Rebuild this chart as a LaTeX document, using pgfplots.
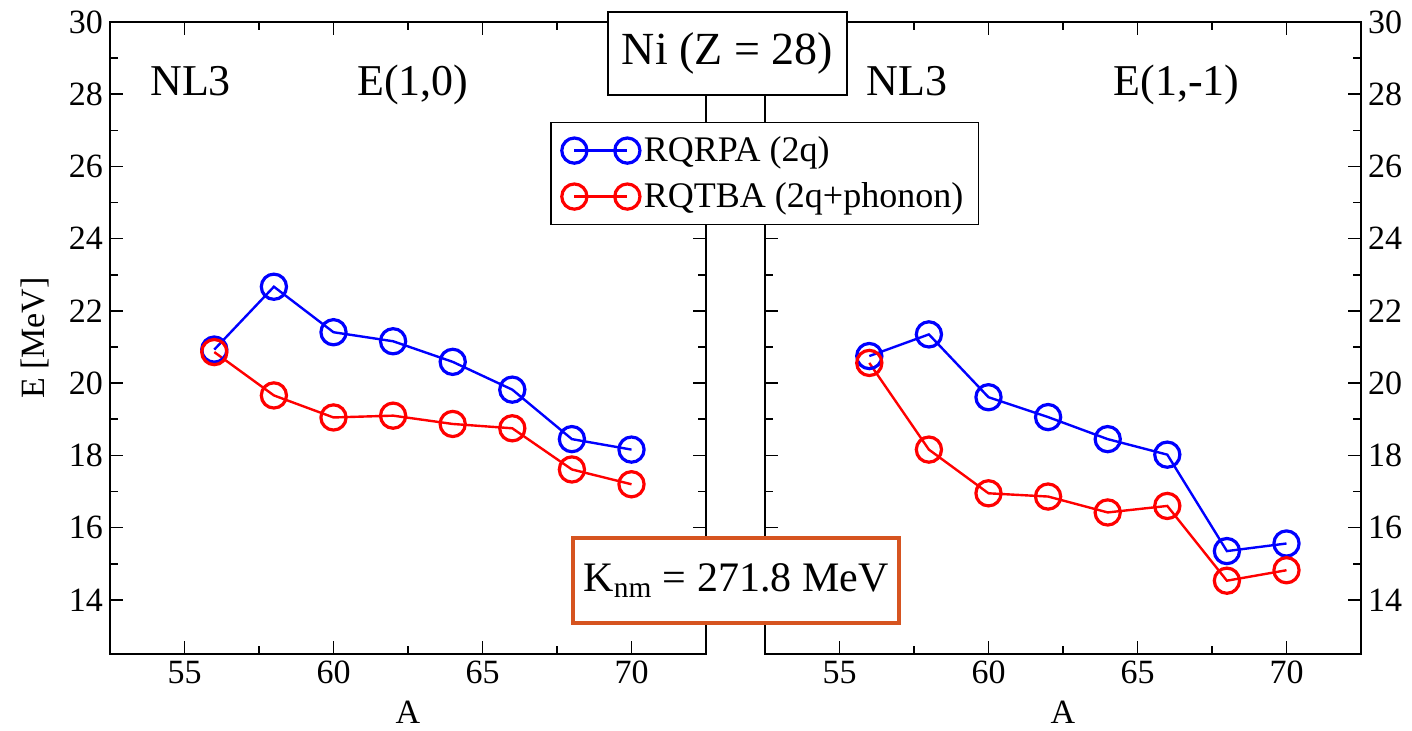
\documentclass[border=0pt]{standalone}
\usepackage{fontspec}
\setmainfont{Liberation Serif}
\usepackage{pgfplots}
\pgfplotsset{compat=1.18}
\usetikzlibrary{shadows}

\definecolor{knmorange}{RGB}{214,84,32}

\tikzset{lbl/.style={font=\rmfamily\fontsize{22}{22}\selectfont, inner sep=0pt, anchor=base west}}

\pgfplotsset{
  nipanel/.style={
    scale only axis, width=298pt, height=316pt,
    xmin=52.5, xmax=72.5, ymin=12.5, ymax=30,
    xtick={55,60,65,70}, ytick={14,16,...,30},
    minor x tick num=1, minor y tick num=1,
    tick align=inside,
    major tick length=6.5pt, minor tick length=4pt,
    axis line style={line width=1pt},
    tick style={black, line width=0.8pt},
    tick label style={font=\rmfamily\fontsize{17}{17}\selectfont},
    label style={font=\rmfamily\fontsize{17}{17}\selectfont},
    /pgf/number format/assume math mode=true,
    xlabel={A},
    xlabel style={at={(axis description cs:0.5,-0.092)}, anchor=center},
    clip=false,
    legend image code/.code={\draw[##1] plot coordinates {(0pt,0pt) (26.5pt,0pt)};},
  },
  rq/.style={blue, line width=1.2pt, mark=o, mark size=6.3pt, mark options={line width=1.6pt}},
  rt/.style={red, line width=1.2pt, mark=o, mark size=6.3pt, mark options={line width=1.6pt}},
}

\begin{document}
\begin{tikzpicture}
\useasboundingbox (0,0) rectangle (706pt,365pt);

% left panel: E(1,0)
\begin{axis}[nipanel, at={(55pt,38pt)}, anchor=south west,
  yticklabel pos=left,
  ylabel={E [MeV]},
  ylabel style={at={(axis description cs:-0.126,0.5)}, anchor=center}]
\addplot[rq] coordinates {(56,20.93)(58,22.67)(60,21.41)(62,21.16)(64,20.59)(66,19.82)(68,18.45)(70,18.16)};
\addplot[rt] coordinates {(56,20.86)(58,19.66)(60,19.05)(62,19.10)(64,18.87)(66,18.75)(68,17.61)(70,17.20)};
\node[lbl] at (axis cs:53.84,27.97) {NL3};
\node[lbl] at (axis cs:60.79,27.97) {E(1,0)};
\end{axis}

% right panel: E(1,-1)
\begin{axis}[nipanel, at={(382.5pt,38pt)}, anchor=south west,
  yticklabel pos=right,
  legend style={at={(axis description cs:-0.3607,0.842)}, anchor=north west,
    draw=black, line width=0.75pt, fill=white,
    font=\rmfamily\fontsize{18}{18}\selectfont,
    inner xsep=5.5pt, inner ysep=5pt, row sep=5pt},
  legend cell align=left]
\addplot[rq] coordinates {(56,20.75)(58,21.35)(60,19.61)(62,19.06)(64,18.45)(66,18.02)(68,15.35)(70,15.56)};
\addplot[rt] coordinates {(56,20.56)(58,18.16)(60,16.95)(62,16.86)(64,16.42)(66,16.60)(68,14.53)(70,14.82)};
\legend{RQRPA (2q),RQTBA (2q+phonon)}
\node[lbl] at (axis cs:55.89,27.97) {NL3};
\node[lbl] at (axis cs:64.18,27.97) {E(1,-1)};
\end{axis}

\node[draw=black, line width=0.75pt, fill=white, minimum width=119.5pt,
  minimum height=41.5pt, font=\rmfamily\fontsize{23}{23}\selectfont]
  at (363.75pt,338.25pt) {Ni (Z = 28)};
\node[draw=knmorange, line width=2pt, fill=white,
  drop shadow={opacity=0.25, shadow xshift=1.2pt, shadow yshift=-1.2pt},
  minimum width=163pt, minimum height=42.5pt, font=\rmfamily\fontsize{21}{21}\selectfont]
  at (368pt,74.75pt) {K\textsubscript{nm} = 271.8 MeV};
\end{tikzpicture}
\end{document}
